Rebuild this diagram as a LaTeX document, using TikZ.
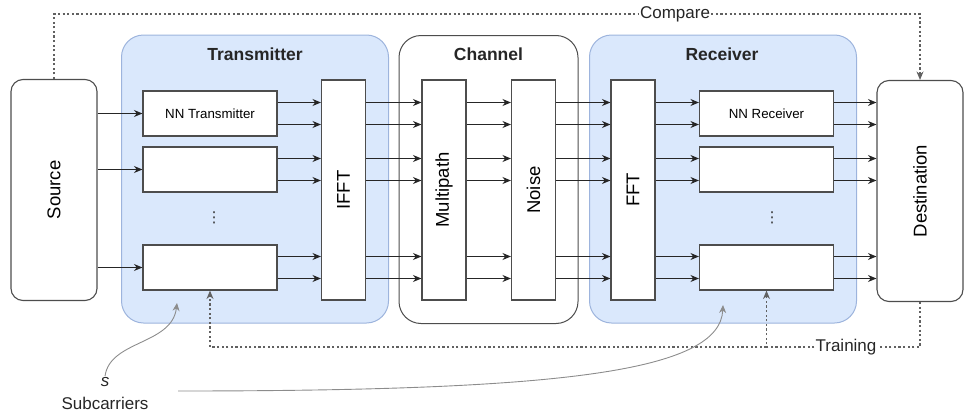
\documentclass[tikz,border=0pt]{standalone}
\usepackage{fontspec}
\setmainfont{Liberation Sans}
\newfontfamily\dotsfont{DejaVu Sans}
\usetikzlibrary{arrows.meta}

\definecolor{regfill}{HTML}{DAE8FC}
\definecolor{regdraw}{HTML}{9DB4DD}
\definecolor{boxdraw}{HTML}{4D4D4D}

\tikzset{
  block/.style={draw=boxdraw,fill=white,line width=1.1pt,inner sep=0pt},
  side/.style={block,rounded corners=12pt,minimum width=86pt,minimum height=221pt,
    font=\fontsize{18.5}{22}\selectfont},
  stage/.style={block,minimum width=44pt,minimum height=220pt,
    font=\fontsize{18.5}{22}\selectfont},
  nnbox/.style={block,minimum width=134pt,minimum height=45pt,
    font=\fontsize{13.3}{16}\selectfont},
  region/.style={draw=regdraw,fill=regfill,line width=1pt,rounded corners=22pt,
    minimum width=267pt,minimum height=288pt},
  title/.style={font=\fontsize{17.5}{20}\selectfont\bfseries,text=black!85},
  lbl/.style={font=\fontsize{17}{20}\selectfont,text=black!85,inner sep=1pt},
  vdot/.style={font=\fontsize{15}{18}\selectfont\dotsfont,text=black!80,inner sep=0pt},
  arr/.style={-{Stealth[length=8.5pt,width=7pt]},line width=1.2pt,draw=black!85},
  fbl/.style={line width=1.2pt,draw=black!62,dash pattern=on 2.2pt off 2.4pt},
  fb/.style={fbl,-{Stealth[length=8.5pt,width=7pt]}},
  sub/.style={line width=0.9pt,draw=black!45,-{Stealth[length=8pt,width=7pt]}}
}

\begin{document}
\begin{tikzpicture}[x=1pt,y=-1pt]
    \useasboundingbox (0,0) rectangle (964,415);

    \node[region] (Tx) at (255,179) {};
    \node[region,draw=boxdraw,fill=white,minimum width=179pt] (Ch) at (488.5,179.5) {};
    \node[region] (Rx) at (723,179) {};
    \node[title] (Tx_t) at (255,54) {Transmitter};
    \node[title] (Ch_t) at (488.5,54) {Channel};
    \node[title] (Rx_t) at (722,54) {Receiver};

    \node[side] (S) at (54,190) {\rotatebox{90}{Source}};
    \node[side] (D) at (920,191) {\rotatebox{90}{Destination}};

    \node[nnbox] (T_1) at (210,113.5) {NN Transmitter};
    \node[nnbox] (T_2) at (210,169.5) {};
    \node[nnbox] (T_3) at (210,267.5) {};
    \node[nnbox] (R_1) at (766.5,113.5) {NN Receiver};
    \node[nnbox] (R_2) at (766.5,169.5) {};
    \node[nnbox] (R_3) at (766.5,267.5) {};
    \node[vdot] (T_d) at (214,218) {⋮};
    \node[vdot] (R_d) at (772,218) {⋮};

    \node[stage] (IFFT) at (343.5,190) {\rotatebox{90}{IFFT}};
    \node[stage] (MP) at (444,190) {\rotatebox{90}{Multipath}};
    \node[stage] (NS) at (533.5,190) {\rotatebox{90}{Noise}};
    \node[stage] (FFT) at (633,190) {\rotatebox{90}{FFT}};

    \foreach \i in {1,2,3} {
        \draw[arr] (S.east |- T_\i.west) -- (T_\i.west);
        \foreach \d/\k in {11/a,-11/b} {
            \coordinate (L\i\k) at ([yshift=\d pt]T_\i.east);
            \draw[arr] (L\i\k) -- (L\i\k -| IFFT.west);
            \draw[arr] (L\i\k -| IFFT.east) -- (L\i\k -| MP.west);
            \draw[arr] (L\i\k -| MP.east) -- (L\i\k -| NS.west);
            \draw[arr] (L\i\k -| NS.east) -- (L\i\k -| FFT.west);
            \draw[arr] (L\i\k -| FFT.east) -- (L\i\k -| R_\i.west);
            \draw[arr] (L\i\k -| R_\i.east) -- (L\i\k -| D.west);
        }
    }

    \node[lbl] (cmp) at (675,14) {Compare};
    \draw[fbl] (S.north) |- (cmp.west);
    \draw[fb] (cmp.east) -| (D.north);

    \node[lbl] (trn) at (846,347) {Training};
    \draw[fbl] (D.south) |- (trn.east);
    \draw[fb] (trn.west) -| (R_3.south);
    \draw[fb] (R_3.south |- trn.west) -| (T_3.south);

    \node[lbl,font=\fontsize{17}{20}\selectfont\itshape] (s) at (105,382) {s};
    \node[lbl] (sc) at (105,403) {Subcarriers};
    \coordinate (a_1) at (177,303);
    \coordinate (a_2) at (723,305);
    \coordinate (b) at (178,391);
    \draw[sub] (s.north) .. controls (110,340) and (172,345) .. (a_1);
    \draw[sub] (b) .. controls (560,391) and (720,372) .. (a_2);
\end{tikzpicture}
\end{document}
